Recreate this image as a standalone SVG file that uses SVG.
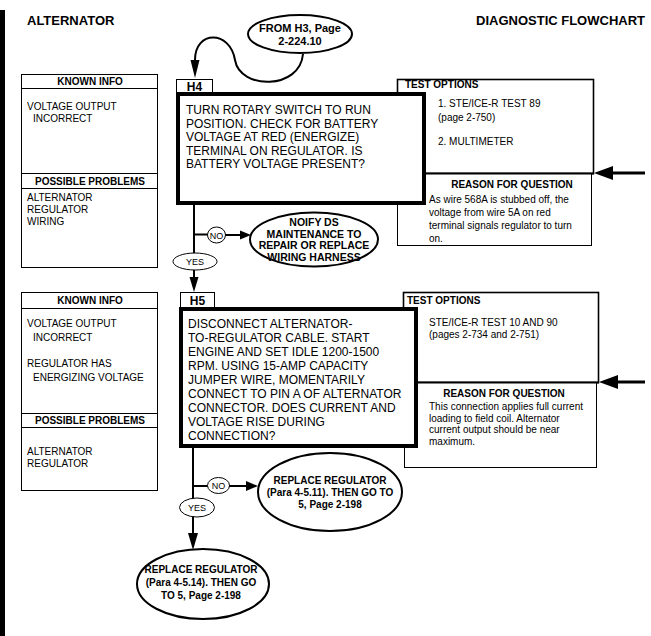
<svg xmlns="http://www.w3.org/2000/svg" width="651" height="636" viewBox="0 0 651 636">
<defs>
<style>
text{font-family:"Liberation Sans",Arial,sans-serif;fill:#000}
.t{font-size:13px;font-weight:bold}
.b10{font-size:10px;font-weight:bold}
.r10{font-size:10px}
.q{font-size:12px}
.e{font-size:10.5px;font-weight:bold;text-anchor:middle}
.c{text-anchor:middle}
.thin{fill:#fff;stroke:#000;stroke-width:1}
.med{fill:#fff;stroke:#000;stroke-width:1.6}
.thick{fill:#fff;stroke:#000;stroke-width:4}
.oval{fill:#fff;stroke:#000;stroke-width:2}
.ln{fill:none;stroke:#000;stroke-width:2}
.big{fill:none;stroke:#000;stroke-width:3}
.ah{fill:#000;stroke:none}
</style>
</defs>
<rect x="0" y="10" width="5" height="626" fill="#000"/>
<text class="t" x="27" y="25">ALTERNATOR</text>
<text class="t" x="645" y="25" text-anchor="end">DIAGNOSTIC FLOWCHART</text>

<g id="known1">
<rect class="thin" x="21.5" y="74.5" width="136" height="193"/>
<line x1="21.5" y1="88.5" x2="157.5" y2="88.5" stroke="#000"/>
<line x1="21.5" y1="173.5" x2="157.5" y2="173.5" stroke="#000"/>
<line x1="21.5" y1="188.5" x2="157.5" y2="188.5" stroke="#000"/>
<text class="b10 c" x="90" y="85">KNOWN INFO</text>
<text class="r10" x="27" y="110">VOLTAGE OUTPUT</text>
<text class="r10" x="33" y="122">INCORRECT</text>
<text class="b10 c" x="90" y="185">POSSIBLE PROBLEMS</text>
<text class="r10" x="27" y="201">ALTERNATOR</text>
<text class="r10" x="27" y="213">REGULATOR</text>
<text class="r10" x="27" y="225">WIRING</text>
</g>

<g id="from-h3">
<ellipse class="oval" cx="300" cy="34" rx="52" ry="19"/>
<text class="e" x="300" y="32" style="font-size:11px">FROM H3, Page</text>
<text class="e" x="300" y="45" style="font-size:11px">2-224.10</text>
</g>

<g id="test1">
<rect class="med" x="397.5" y="79.5" width="196" height="94"/>
<rect class="thin" x="397.5" y="173.5" width="194" height="72"/>
<line x1="397" y1="173.5" x2="594" y2="173.5" stroke="#000" stroke-width="2"/>
<text class="b10" x="405" y="88">TEST OPTIONS</text>
<text class="r10" x="438" y="107">1. STE/ICE-R TEST 89</text>
<text class="r10" x="438" y="121">(page 2-750)</text>
<text class="r10" x="438" y="145">2. MULTIMETER</text>
<text class="b10 c" x="512" y="188">REASON FOR QUESTION</text>
<text class="r10" x="429" y="203">As wire 568A is stubbed off, the</text>
<text class="r10" x="429" y="216">voltage from wire 5A on red</text>
<text class="r10" x="429" y="229">terminal signals regulator to turn</text>
<text class="r10" x="429" y="242">on.</text>
</g>

<g id="h4">
<rect class="thin" x="176.5" y="79.5" width="36" height="13"/>
<text class="c" x="194.5" y="90.5" style="font-size:12px;font-weight:bold">H4</text>
<rect class="thick" x="178" y="94" width="246" height="109"/>
<text class="q" x="186" y="114">TURN ROTARY SWITCH TO RUN</text>
<text class="q" x="186" y="128">POSITION. CHECK FOR BATTERY</text>
<text class="q" x="186" y="141">VOLTAGE AT RED (ENERGIZE)</text>
<text class="q" x="186" y="155">TERMINAL ON REGULATOR. IS</text>
<text class="q" x="186" y="168">BATTERY VOLTAGE PRESENT?</text>
</g>

<g id="notify">
<ellipse class="oval" cx="314" cy="239.5" rx="64" ry="27"/>
<text class="e" x="314" y="226">NOIFY DS</text>
<text class="e" x="314" y="237.5">MAINTENANCE TO</text>
<text class="e" x="314" y="249">REPAIR OR REPLACE</text>
<text class="e" x="314" y="260.5">WIRING HARNESS</text>
</g>

<g id="known2">
<rect class="thin" x="21.5" y="292.5" width="136" height="198"/>
<line x1="21.5" y1="308.5" x2="157.5" y2="308.5" stroke="#000"/>
<line x1="21.5" y1="413.5" x2="157.5" y2="413.5" stroke="#000"/>
<line x1="21.5" y1="427.5" x2="157.5" y2="427.5" stroke="#000"/>
<text class="b10 c" x="90" y="304">KNOWN INFO</text>
<text class="r10" x="27" y="327">VOLTAGE OUTPUT</text>
<text class="r10" x="33" y="341">INCORRECT</text>
<text class="r10" x="27" y="367">REGULATOR HAS</text>
<text class="r10" x="33" y="381">ENERGIZING VOLTAGE</text>
<text class="b10 c" x="90" y="424">POSSIBLE PROBLEMS</text>
<text class="r10" x="27" y="455">ALTERNATOR</text>
<text class="r10" x="27" y="467">REGULATOR</text>
</g>

<g id="test2">
<rect class="med" x="403.5" y="292.5" width="195" height="90"/>
<rect class="thin" x="404.5" y="382.5" width="192" height="85"/>
<line x1="403" y1="382.5" x2="599" y2="382.5" stroke="#000" stroke-width="2"/>
<text class="b10" x="407" y="304">TEST OPTIONS</text>
<text class="r10" x="429" y="326">STE/ICE-R TEST 10 AND 90</text>
<text class="r10" x="429" y="338">(pages 2-734 and 2-751)</text>
<text class="b10 c" x="504" y="397">REASON FOR QUESTION</text>
<text class="r10" x="429" y="410">This connection applies full current</text>
<text class="r10" x="429" y="422">loading to field coil. Alternator</text>
<text class="r10" x="429" y="433">current output should be near</text>
<text class="r10" x="429" y="445">maximum.</text>
</g>

<g id="h5">
<rect class="thin" x="180.5" y="292.5" width="34" height="15"/>
<text class="c" x="197.5" y="304.5" style="font-size:12px;font-weight:bold">H5</text>
<rect class="thick" x="181" y="309" width="235" height="137"/>
<text class="q" x="188" y="328">DISCONNECT ALTERNATOR-</text>
<text class="q" x="188" y="342">TO-REGULATOR CABLE. START</text>
<text class="q" x="188" y="356">ENGINE AND SET IDLE 1200-1500</text>
<text class="q" x="188" y="370">RPM. USING 15-AMP CAPACITY</text>
<text class="q" x="188" y="384">JUMPER WIRE, MOMENTARILY</text>
<text class="q" x="188" y="398">CONNECT TO PIN A OF ALTERNATOR</text>
<text class="q" x="188" y="412">CONNECTOR. DOES CURRENT AND</text>
<text class="q" x="188" y="426">VOLTAGE RISE DURING</text>
<text class="q" x="188" y="440">CONNECTION?</text>
</g>

<g id="replace1">
<ellipse class="oval" cx="330" cy="492" rx="72" ry="39"/>
<text class="e" x="330" y="484" style="font-size:10px">REPLACE REGULATOR</text>
<text class="e" x="330" y="496" style="font-size:10px">(Para 4-5.11). THEN GO TO</text>
<text class="e" x="330" y="508" style="font-size:10px">5, Page 2-198</text>
</g>

<g id="replace2">
<ellipse class="oval" cx="203" cy="584" rx="66" ry="35"/>
<text class="e" x="201" y="573" style="font-size:10px">REPLACE REGULATOR</text>
<text class="e" x="201" y="586" style="font-size:10px">(Para 4-5.14). THEN GO</text>
<text class="e" x="201" y="599" style="font-size:10px">TO 5, Page 2-198</text>
</g>

<g id="connectors">
<path class="ln" d="M303 54 C300 90 240 90 235 60 C230 30 195 30 195 60"/>
<polygon class="ah" points="190.5,60 199.5,60 195,78"/>

<line class="ln" x1="194" y1="205" x2="194" y2="281"/>
<line class="ln" x1="194" y1="234.5" x2="208" y2="234.5"/>
<ellipse class="thin" cx="216.5" cy="235" rx="9" ry="8"/>
<text class="c" x="216.5" y="238.5" style="font-size:9px">NO</text>
<line class="ln" x1="225" y1="235" x2="241" y2="235"/>
<polygon class="ah" points="240,230.5 251,235 240,239.5"/>
<ellipse class="thin" cx="195" cy="261.5" rx="22" ry="8.5"/>
<text class="c" x="195" y="265" style="font-size:9px">YES</text>
<polygon class="ah" points="189.5,277 198.5,277 194,292"/>

<line class="ln" x1="193" y1="448" x2="193" y2="536"/>
<line class="ln" x1="193" y1="486" x2="208" y2="486"/>
<ellipse class="thin" cx="218.5" cy="485.5" rx="11" ry="8"/>
<text class="c" x="218.5" y="489" style="font-size:9px">NO</text>
<line class="ln" x1="229" y1="486" x2="247" y2="486"/>
<polygon class="ah" points="246,481 258,486 246,491"/>
<ellipse class="thin" cx="197" cy="507.5" rx="17.5" ry="9.5"/>
<text class="c" x="197" y="511" style="font-size:9px">YES</text>
<polygon class="ah" points="188,533 198,533 193,550"/>

<line class="big" x1="645" y1="173" x2="610" y2="173"/>
<polygon class="ah" points="613,166 594,173 613,180"/>
<line class="big" x1="645" y1="382" x2="615" y2="382"/>
<polygon class="ah" points="618,375 599,382 618,389"/>
</g>
</svg>
